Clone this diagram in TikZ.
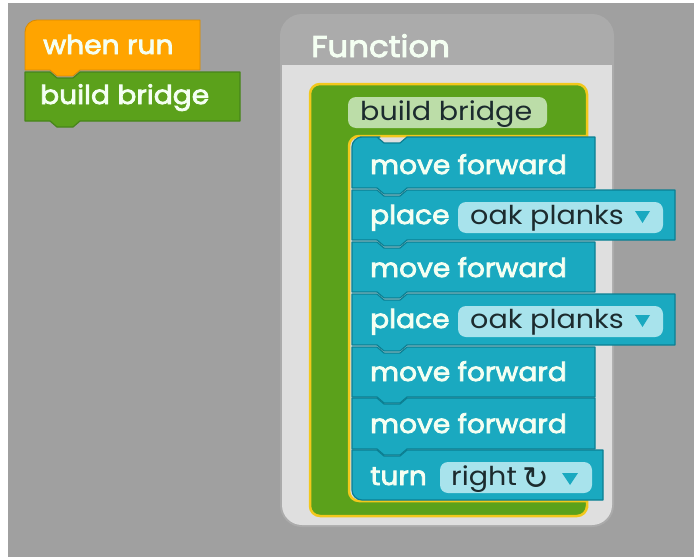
\documentclass[tikz,border=0pt]{standalone}
\usepackage{fontspec}
\setmainfont{Poppins}[FakeStretch=1.1]
\newfontfamily\wfont{Poppins}[FakeStretch=1.08, FakeBold=3]
\newfontfamily\symfont{DejaVu Sans}
\definecolor{bgc}{HTML}{A0A0A0}
\definecolor{hdrc}{HTML}{ABABAB}
\definecolor{bodyc}{HTML}{DFDFDF}
\definecolor{orangec}{HTML}{FFA400}
\definecolor{orangedk}{HTML}{D98A00}
\definecolor{greenc}{HTML}{5BA11B}
\definecolor{greendk}{HTML}{47851A}
\definecolor{yellowc}{HTML}{F2C81C}
\definecolor{cyanc}{HTML}{1AA9C0}
\definecolor{cyandk}{HTML}{0B7F92}
\definecolor{pillc}{HTML}{A8E3EC}
\definecolor{labelc}{HTML}{BCDDA8}
\definecolor{wtext}{HTML}{F4FFF2}
\definecolor{dtext}{HTML}{1C2B2E}
\newcommand\stmtblock[5]{%
  \path[#1] (#2,#3) -- ({#2+25},#3) -- ({#2+32},{#3+6}) -- ({#2+48},{#3+6}) -- ({#2+55},#3)
   -- ({#2+#4},#3) -- ({#2+#4},{#3+#5}) -- ({#2+55},{#3+#5}) -- ({#2+48},{#3+#5+6})
   -- ({#2+32},{#3+#5+6}) -- ({#2+25},{#3+#5}) -- (#2,{#3+#5}) -- cycle;}
\tikzset{
  cyanblk/.style={fill=cyanc, draw=cyandk, line width=1.2pt, line join=round},
  wlabel/.style={anchor=base west, inner sep=0pt, text=wtext, font=\wfont\fontsize{26}{30}\selectfont},
  dlabel/.style={anchor=base west, inner sep=0pt, text=dtext, font=\fontsize{26}{30}\selectfont},
  pill/.style={fill=pillc, rounded corners=8pt},
  tri/.style={fill=cyanc},
}
\begin{document}
\begin{tikzpicture}[x=1pt,y=-1pt]
\useasboundingbox (0,0) rectangle (694,557);
\fill[white] (0,0) rectangle (694,557);
\fill[bgc] (8,3) rectangle (694,557);
% left blocks
\path[fill=orangec, draw=orangedk, line width=0.8pt, line join=round]
  (25,70) -- (25,45) [rounded corners=12pt] -- (25,20) -- (60,20) [sharp corners] -- (200,20) -- (200,70)
  -- (80,70) -- (73,76) -- (57,76) -- (50,70) -- cycle;
\stmtblock{fill=greenc, draw=greendk, line width=1.2pt, line join=round}{25}{72}{215}{49}
\node[wlabel] (whenrun) at (43,54) {when run};
\node[wlabel] (callbb) at (40,104) {build bridge};
% function panel
\fill[hdrc, rounded corners=22pt] (280,14) rectangle (614,527);
\fill[bodyc] (282,65) rectangle (612,110);
\fill[bodyc, rounded corners=20pt] (282,80) rectangle (612,525);
\node[anchor=base west, inner sep=0pt, text=wtext, font=\wfont\fontsize{30}{34}\selectfont] (fn) at (311,57) {Function};
% green C
\path[fill=greenc, draw=yellowc, line width=2.5pt]
  (330,84) [rounded corners=10pt] -- (587,84) -- (587,110) [sharp corners] -- (587,136) -- (400,136)
  [rounded corners=10pt] -- (349,136) -- (349,501) -- (400,501) [sharp corners] -- (587,501) -- (587,508)
  [rounded corners=10pt] -- (587,516) -- (310,516) -- (310,84) -- cycle;
\fill[labelc, rounded corners=8pt] (348,97) rectangle (547,128);
\node[dlabel] (bb) at (360,120) {build bridge};
% statement blocks
\path[cyanblk] (352,188) -- (352,160) [rounded corners=10pt] -- (352,137) -- (370,137) [sharp corners] -- (377,137) -- (384,143) -- (400,143) -- (407,137) -- (595,137) -- (595,188)
  -- (407,188) -- (400,194) -- (384,194) -- (377,188) -- cycle;
\stmtblock{cyanblk}{352}{190}{323}{50}
\stmtblock{cyanblk}{352}{242}{243}{50}
\stmtblock{cyanblk}{352}{294}{323}{51}
\stmtblock{cyanblk}{352}{347}{243}{50}
\stmtblock{cyanblk}{352}{398}{243}{51}
\path[cyanblk] (352,450) -- (377,450) -- (384,456) -- (400,456) -- (407,450) -- (603,450) -- (603,500)
  -- (400,500) [rounded corners=10pt] -- (352,500) -- (352,475) [sharp corners] -- cycle;
\node[wlabel] (mf1) at (370,174) {move forward};
\node[wlabel] (pl1) at (370,224) {place};
\fill[pill] (458,202) rectangle (663,233);
\node[dlabel] (op1) at (470,224) {oak planks};
\fill[tri] (635,211) -- (650,211) -- (642.5,223) -- cycle;
\node[wlabel] (mf2) at (370,277) {move forward};
\node[wlabel] (pl2) at (370,328) {place};
\fill[pill] (458,306) rectangle (663,337);
\node[dlabel] (op2) at (470,328) {oak planks};
\fill[tri] (635,315) -- (650,315) -- (642.5,327) -- cycle;
\node[wlabel] (mf3) at (370,381) {move forward};
\node[wlabel] (mf4) at (370,433) {move forward};
\node[wlabel] (tn) at (370,485) {turn};
\fill[pill] (440,462) rectangle (592,493);
\node[dlabel] (rt) at (451,485) {right};
\node[anchor=base west, inner sep=0pt, text=dtext, font=\symfont\fontsize{32}{36}\selectfont] (rot) at (522,489) {↻};
\fill[tri] (562,473) -- (578,473) -- (570,485) -- cycle;
\end{tikzpicture}
\end{document}
